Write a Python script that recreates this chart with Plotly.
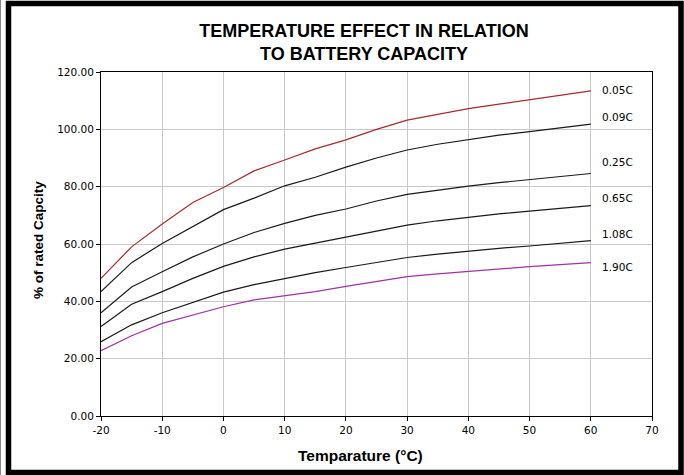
import plotly.graph_objects as go

temps = [-20, -15, -10, -5, 0, 5, 10, 15, 20, 25, 30, 35, 40, 45, 50, 55, 60]
c005 = [48, 59, 67, 74.5, 79.7, 85.5, 89.3, 93.2, 96.3, 100, 103.2, 105.3, 107.2, 108.8, 110.3, 111.8, 113.4]
c009 = [43.4, 53.5, 60.2, 66, 72, 76, 80.3, 83.3, 86.8, 90, 92.8, 94.8, 96.5, 98, 99.2, 100.5, 101.8]
c025 = [36, 45, 50.3, 55.5, 60, 64, 67.2, 70, 72.2, 75, 77.3, 78.8, 80.2, 81.4, 82.5, 83.6, 84.6]
c065 = [31.2, 39, 43.4, 48, 52.2, 55.5, 58.2, 60.3, 62.4, 64.6, 66.6, 68.1, 69.4, 70.5, 71.5, 72.5, 73.4]
c108 = [25.9, 31.8, 36, 39.5, 43.2, 45.8, 48, 50, 51.8, 53.6, 55.3, 56.5, 57.6, 58.5, 59.3, 60.3, 61.2]
c190 = [22.8, 28, 32.3, 35.2, 38.1, 40.5, 42, 43.4, 45.2, 47, 48.6, 49.6, 50.5, 51.3, 52.1, 52.8, 53.5]

series_names = ["0.05C", "0.09C", "0.25C", "0.65C", "1.08C", "1.90C"]
series_values = [c005, c009, c025, c065, c108, c190]
series_colors = ["#a82a2a", "#1a1a1a", "#1a1a1a", "#1a1a1a", "#1a1a1a", "#a030a8"]
label_y = [113.6, 104.4, 88.6, 76.1, 63.6, 52.0]

x_ticks = [-20, -10, 0, 10, 20, 30, 40, 50, 60, 70]
y_ticks = [0, 20, 40, 60, 80, 100, 120]

SMALL = dict(family="DejaVu Sans", size=10.5, color="black")

fig = go.Figure()
for name, vals, col in zip(series_names, series_values, series_colors):
    fig.add_trace(go.Scatter(x=temps, y=vals, mode="lines", name=name,
                             line=dict(color=col, width=1.2), showlegend=False))

for name, ly in zip(series_names, label_y):
    fig.add_annotation(x=61.5, y=ly, text=name, showarrow=False, xanchor="left",
                       yanchor="middle", font=SMALL)

W, H = 684, 475
L, R, T, B = 101, 652, 72, 416

def px(xp):
    return (xp - L) / (R - L)

def py(yp):
    return (B - yp) / (B - T)

# outer frame
fig.add_shape(type="rect", xref="paper", yref="paper",
              x0=px(8.5), x1=px(681), y0=py(472.5), y1=py(3.5),
              line=dict(color="black", width=5.5), layer="above")
fig.add_shape(type="line", xref="paper", yref="paper",
              x0=px(0.5), x1=px(0.5), y0=py(475), y1=py(0),
              line=dict(color="#888", width=1))

# axis titles
fig.add_annotation(xref="paper", yref="paper", x=px(360), y=py(455),
                   text="<b>Temparature (°C)</b>", showarrow=False,
                   xanchor="center", yanchor="middle",
                   font=dict(family="Liberation Sans", size=15.5, color="black"))
fig.add_annotation(xref="paper", yref="paper", x=px(38), y=py(240),
                   text="<b>% of rated Capcity</b>", showarrow=False, textangle=-90,
                   xanchor="center", yanchor="middle",
                   font=dict(family="Liberation Sans", size=13.5, color="black"))

fig.update_layout(
    width=W, height=H,
    margin=dict(l=L, r=W - R, t=T, b=H - B),
    paper_bgcolor="white", plot_bgcolor="white",
    title=dict(text="<b>TEMPERATURE EFFECT IN RELATION<br>TO BATTERY CAPACITY</b>",
               x=364 / W, xanchor="center", xref="container",
               y=1 - 37 / H, yanchor="middle", yref="container",
               font=dict(family="Liberation Sans", size=18, color="black")),
    font=dict(family="Liberation Sans", color="black"),
)
fig.update_xaxes(range=[-20, 70], tickvals=x_ticks, ticktext=[str(t) for t in x_ticks],
                 showgrid=True, gridcolor="#c8c8c8", gridwidth=1,
                 showline=True, linecolor="black", linewidth=1, mirror=True,
                 ticks="outside", ticklen=4, tickcolor="black",
                 tickfont=SMALL, zeroline=False)
fig.update_yaxes(range=[0, 120], tickvals=y_ticks, ticktext=[f"{t:.2f}" for t in y_ticks],
                 showgrid=True, gridcolor="#c8c8c8", gridwidth=1,
                 showline=True, linecolor="black", linewidth=1, mirror=True,
                 ticks="outside", ticklen=4, tickcolor="black",
                 tickfont=SMALL, zeroline=False)

fig.write_html("out.html", config={"displayModeBar": False},
               post_script="document.body.style.margin='0';document.body.style.overflow='hidden';")
